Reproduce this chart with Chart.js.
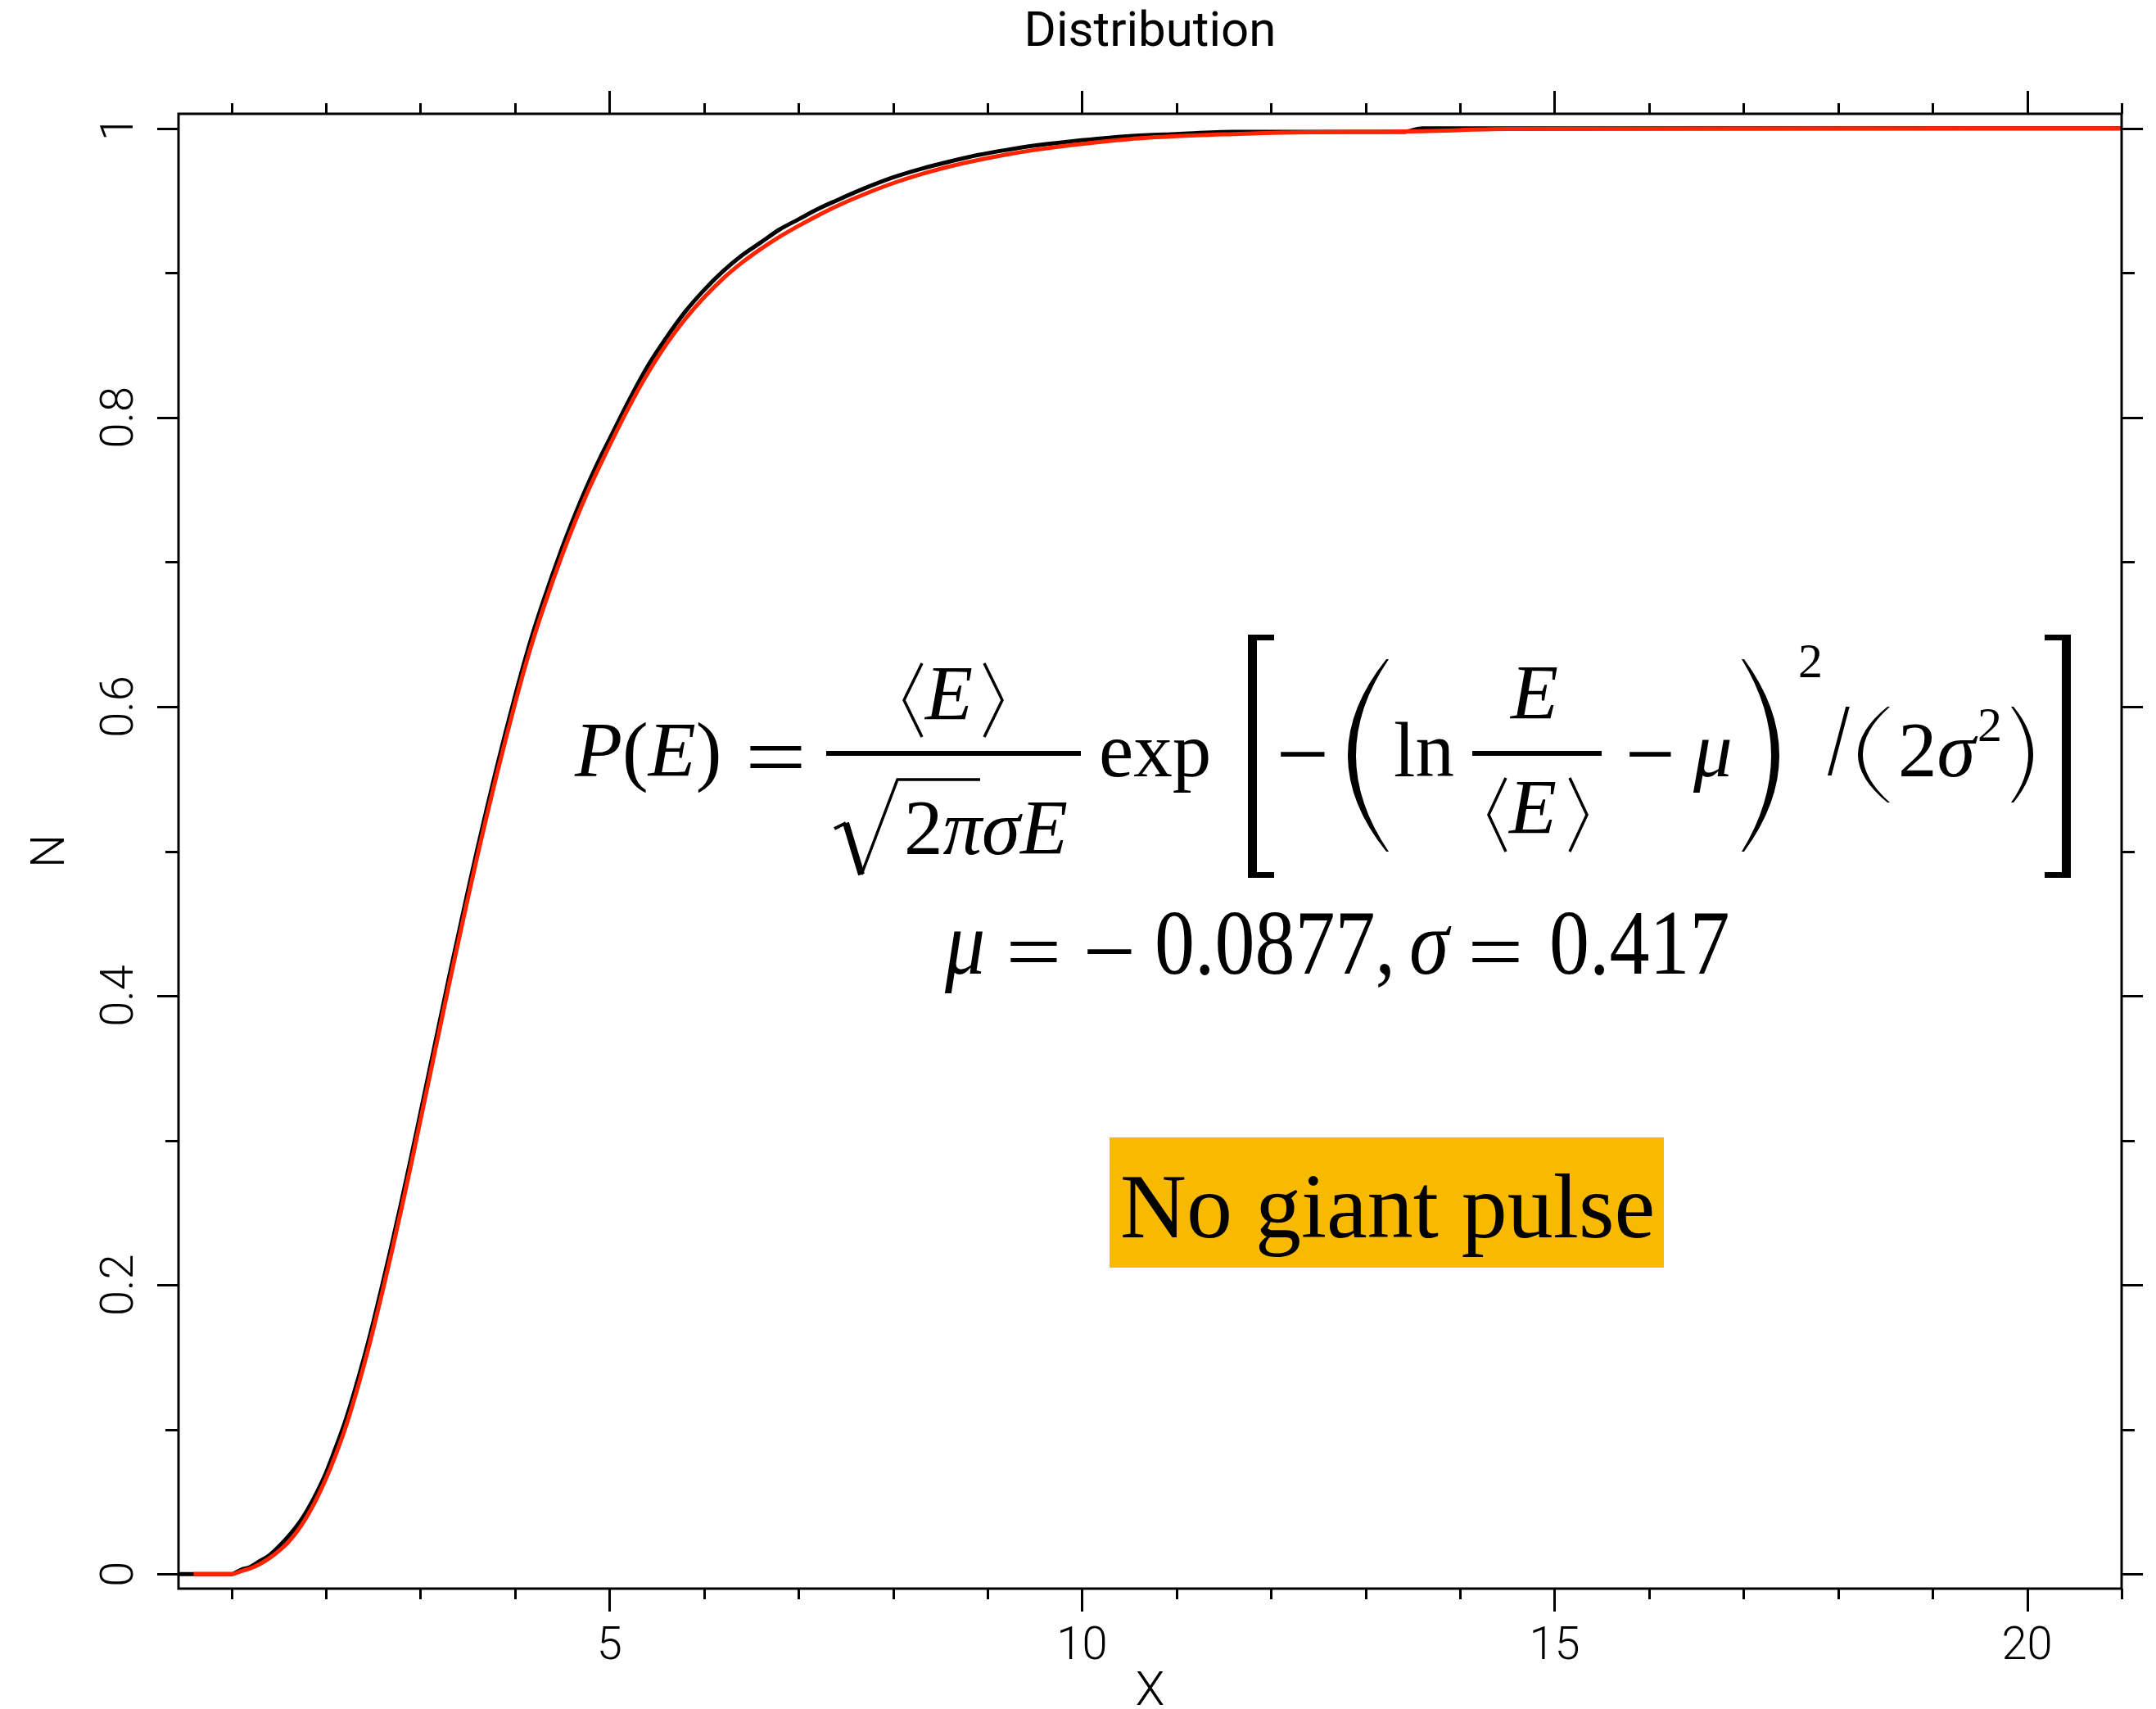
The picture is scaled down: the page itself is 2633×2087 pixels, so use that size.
<!DOCTYPE html>
<html><head><meta charset="utf-8">
<script src="https://cdn.jsdelivr.net/npm/chart.js@4.4.1/dist/chart.umd.min.js"></script>
<style>html,body{margin:0;padding:0;background:#fff;}canvas{display:block;}</style>
</head><body>
<canvas id="c" width="2633" height="2087"></canvas>
<script>
// ---------- data ----------
const chartTitle = 'Distribution';
const xAxisTitle = 'X';
const yAxisTitle = 'N';
const xRange = [0.44, 21];
const yRange = [-0.01, 1.01];
const xMajorTicks = [5, 10, 15, 20];
const xMajorLabels = ['5', '10', '15', '20'];
const xMinorTicks = [1,2,3,4,5,6,7,8,9,10,11,12,13,14,15,16,17,18,19,20,21];
const yMajorTicks = [0, 0.2, 0.4, 0.6, 0.8, 1];
const yMajorLabels = ['0', '0.2', '0.4', '0.6', '0.8', '1'];
const yMinorTicks = [0.1, 0.3, 0.5, 0.7, 0.9];

// black histogram (data, cumulative)
const dataX = [0.44,1.0,1.1,1.2,1.3,1.4,1.5,1.6,1.7,1.8,1.9,2.0,2.1,2.2,2.3,2.4,2.5,2.6,2.7,2.8,2.9,3.0,3.1,3.2,3.3,3.4,3.5,3.6,3.7,3.8,3.9,4.0,4.1,4.2,4.3,4.4,4.5,4.6,4.7,4.8,4.9,5.0,5.2,5.4,5.6,5.8,6.0,6.2,6.4,6.6,6.8,7.0,7.2,7.4,7.7,8.0,8.3,8.6,8.9,9.2,9.5,9.9,10.5,11.0,11.6,12.1,13.4,13.6,21];
const dataY = [0,0,0.003,0.005,0.009,0.013,0.019,0.026,0.034,0.044,0.056,0.070,0.087,0.105,0.126,0.149,0.174,0.201,0.229,0.258,0.288,0.319,0.350,0.381,0.412,0.442,0.472,0.501,0.529,0.556,0.582,0.607,0.631,0.653,0.673,0.692,0.710,0.727,0.743,0.758,0.772,0.785,0.811,0.835,0.855,0.873,0.888,0.901,0.912,0.921,0.930,0.937,0.944,0.950,0.9585,0.966,0.972,0.977,0.9815,0.985,0.988,0.991,0.9945,0.996,0.9975,0.9975,0.9975,1.0,1.0];

// red curve (log-normal fit, cumulative)
const fitX = [0.6,1.0,1.1,1.2,1.3,1.4,1.5,1.6,1.7,1.8,1.9,2.0,2.1,2.2,2.3,2.4,2.5,2.6,2.7,2.8,2.9,3.0,3.1,3.2,3.3,3.4,3.5,3.6,3.7,3.8,3.9,4.0,4.1,4.2,4.3,4.4,4.5,4.6,4.7,4.8,4.9,5.0,5.2,5.4,5.6,5.8,6.0,6.2,6.4,6.6,6.8,7.0,7.2,7.4,7.7,8.0,8.3,8.6,8.9,9.2,9.5,9.9,10.5,11.0,11.6,12.1,13.6,14.5,21];
const fitY = [0,0,0.002,0.004,0.007,0.011,0.016,0.022,0.030,0.040,0.052,0.066,0.082,0.100,0.121,0.144,0.169,0.196,0.224,0.253,0.283,0.314,0.345,0.376,0.407,0.437,0.467,0.496,0.524,0.551,0.577,0.602,0.626,0.648,0.668,0.687,0.705,0.722,0.738,0.753,0.767,0.7805,0.8065,0.830,0.8505,0.868,0.883,0.896,0.907,0.9165,0.925,0.9325,0.9395,0.946,0.9545,0.962,0.9683,0.9736,0.978,0.9818,0.985,0.9885,0.9925,0.9945,0.996,0.997,0.998,0.9995,1.0];

const fitMu = '0.0877';
const fitSigma = '0.417';
const labelText = 'No giant pulse';

// ---------- drawing ----------
const SANS = 'Roboto, "Liberation Sans", "DejaVu Sans", sans-serif';
const SERIF = '"Liberation Serif", "Times New Roman", "DejaVu Serif", serif';
const RED = 'rgb(255,36,0)';
function sf(size, italic) { return (italic ? 'italic ' : '') + size + 'px ' + SERIF; }

function runText(ctx, parts, x, y, size, sy) {
  ctx.save();
  ctx.translate(x, y);
  ctx.scale(1, sy || 1);
  let cx = 0;
  for (const [s, it] of parts) {
    ctx.font = sf(size, it);
    ctx.fillText(s, cx, 0);
    cx += ctx.measureText(s).width;
  }
  ctx.restore();
}
function fitGlyph(ctx, ch, x0, y0, x1, y1) {
  ctx.save();
  ctx.font = sf(100, false);
  const m = ctx.measureText(ch);
  const w = m.actualBoundingBoxLeft + m.actualBoundingBoxRight;
  const h = m.actualBoundingBoxAscent + m.actualBoundingBoxDescent;
  ctx.translate(x0, y0);
  ctx.scale((x1 - x0) / w, (y1 - y0) / h);
  ctx.textAlign = 'left'; ctx.textBaseline = 'alphabetic';
  ctx.fillText(ch, m.actualBoundingBoxLeft, m.actualBoundingBoxAscent);
  ctx.restore();
}
function angle(ctx, xa, xb, y0, y1) { // tip at xa, open side at xb
  ctx.beginPath();
  ctx.moveTo(xb, y0); ctx.lineTo(xa, (y0 + y1) / 2); ctx.lineTo(xb, y1);
  ctx.stroke();
}
function paren(ctx, x0, y0, x1, y1, t, left) {
  const ym = (y0 + y1) / 2, e = 3;
  ctx.beginPath();
  if (left) {
    ctx.moveTo(x1 - e, y0);
    ctx.quadraticCurveTo(2 * x0 - (x1 - e), ym, x1 - e, y1);
    ctx.lineTo(x1, y1);
    ctx.quadraticCurveTo(2 * (x0 + t) - x1, ym, x1, y0);
  } else {
    ctx.moveTo(x0 + e, y0);
    ctx.quadraticCurveTo(2 * x1 - (x0 + e), ym, x0 + e, y1);
    ctx.lineTo(x0, y1);
    ctx.quadraticCurveTo(2 * (x1 - t) - x0, ym, x0, y0);
  }
  ctx.closePath();
  ctx.fill();
}

const overlay = {
  id: 'overlay',
  afterDraw(chart) {
    const { ctx, chartArea: a, scales: { x, y } } = chart;
    ctx.save();
    ctx.fillStyle = '#000'; ctx.strokeStyle = '#000';
    // frame
    ctx.lineWidth = 3;
    ctx.strokeRect(a.left, a.top, a.right - a.left, a.bottom - a.top);
    // ticks
    ctx.beginPath();
    xMinorTicks.forEach(v => {
      const px = Math.round(x.getPixelForValue(v)) + 0.5;
      const L = xMajorTicks.includes(v) ? 28 : 13;
      ctx.moveTo(px, a.bottom); ctx.lineTo(px, a.bottom + L);
      ctx.moveTo(px, a.top); ctx.lineTo(px, a.top - L);
    });
    yMajorTicks.concat(yMinorTicks).forEach(v => {
      const py = Math.round(y.getPixelForValue(v)) + 0.5;
      const L = yMajorTicks.includes(v) ? 26 : 16;
      ctx.moveTo(a.left, py); ctx.lineTo(a.left - L, py);
      ctx.moveTo(a.right, py); ctx.lineTo(a.right + L, py);
    });
    ctx.stroke();
    // tick labels
    ctx.font = '300 56px ' + SANS;
    ctx.textAlign = 'center'; ctx.textBaseline = 'alphabetic';
    xMajorTicks.forEach((v, i) => ctx.fillText(xMajorLabels[i], x.getPixelForValue(v), 2026));
    yMajorTicks.forEach((v, i) => {
      ctx.save();
      ctx.translate(162, y.getPixelForValue(v));
      ctx.rotate(-Math.PI / 2);
      ctx.fillText(yMajorLabels[i], 0, 0);
      ctx.restore();
    });
    // titles
    const cx = (a.left + a.right) / 2, cy = (a.top + a.bottom) / 2;
    ctx.font = '400 60px ' + SANS;
    ctx.fillText(chartTitle, cx, 56);
    ctx.font = '300 58px ' + SANS;
    ctx.fillText(xAxisTitle, cx, 2082);
    ctx.save(); ctx.translate(78, cy); ctx.rotate(-Math.PI / 2); ctx.fillText(yAxisTitle, 0, 0); ctx.restore();

    // formula, line 1
    ctx.textAlign = 'left';
    const S = 95;
    runText(ctx, [['P', 1], ['(', 0], ['E', 1], [')', 0]], 702, 948, S);
    fitGlyph(ctx, '=', 915, 910, 979, 937);
    ctx.fillRect(1009, 917, 311, 6);
    ctx.lineWidth = 3.5;
    angle(ctx, 1104, 1126, 810, 900);
    runText(ctx, [['E', 1]], 1130, 879, S);
    angle(ctx, 1224, 1202, 810, 900);
    // radical
    ctx.lineWidth = 4;
    ctx.beginPath(); ctx.moveTo(1019, 1012); ctx.lineTo(1033, 1005); ctx.stroke();
    ctx.lineWidth = 8;
    ctx.beginPath(); ctx.moveTo(1033, 1005); ctx.lineTo(1052, 1068); ctx.stroke();
    ctx.lineWidth = 3.5;
    ctx.beginPath(); ctx.moveTo(1052, 1068); ctx.lineTo(1096, 952); ctx.lineTo(1197, 952); ctx.stroke();
    runText(ctx, [['2', 0], ['π', 1], ['σ', 1], ['E', 1]], 1104, 1043, S);
    runText(ctx, [['exp', 0]], 1342, 948, S);
    // [
    ctx.fillRect(1524, 775, 11, 297); ctx.fillRect(1524, 775, 32, 7); ctx.fillRect(1524, 1065, 32, 7);
    fitGlyph(ctx, '\u2212', 1563, 918, 1618, 925);
    paren(ctx, 1646, 805, 1696, 1040, 10, true);
    runText(ctx, [['ln', 0]], 1702, 948, S);
    ctx.fillRect(1798, 917, 158, 6);
    runText(ctx, [['E', 1]], 1845, 878, S);
    ctx.lineWidth = 3.5;
    angle(ctx, 1818, 1839, 950, 1040);
    runText(ctx, [['E', 1]], 1843, 1018, S);
    angle(ctx, 1938, 1917, 950, 1040);
    fitGlyph(ctx, '\u2212', 1989, 918, 2041, 925);
    runText(ctx, [['μ', 1]], 2068, 948, S);
    paren(ctx, 2127, 805, 2173, 1040, 10, false);
    runText(ctx, [['2', 0]], 2196, 827, 60);
    fitGlyph(ctx, '/', 2232, 865, 2259, 948);
    paren(ctx, 2269, 863, 2308, 980, 6, true);
    runText(ctx, [['2', 0], ['σ', 1]], 2318, 948, S);
    runText(ctx, [['2', 0]], 2415, 905, 60);
    paren(ctx, 2456, 863, 2483, 980, 6, false);
    // ]
    ctx.fillRect(2518, 775, 11, 297); ctx.fillRect(2497, 775, 32, 7); ctx.fillRect(2497, 1065, 32, 7);

    // formula, line 2
    const S2 = 98, SY = 1.15;
    runText(ctx, [['μ', 1]], 1154, 1189, S2, SY);
    fitGlyph(ctx, '=', 1233, 1150, 1291, 1175);
    fitGlyph(ctx, '\u2212', 1327, 1159, 1382, 1166);
    runText(ctx, [[fitMu + ',', 0]], 1410, 1189, S2, SY);
    runText(ctx, [['σ', 1]], 1721, 1189, S2, SY);
    fitGlyph(ctx, '=', 1797, 1150, 1855, 1175);
    runText(ctx, [[fitSigma, 0]], 1892, 1189, S2, SY);

    // label box
    ctx.fillStyle = '#F8BA00';
    ctx.fillRect(1355, 1389, 677, 159);
    ctx.fillStyle = '#000';
    runText(ctx, [[labelText, 0]], 1368, 1511, 112);
    ctx.restore();
  }
};

const toPts = (xs, ys) => xs.map((v, i) => ({ x: v, y: ys[i] }));

new Chart(document.getElementById('c'), {
  type: 'scatter',
  data: {
    datasets: [
      { label: 'data', data: toPts(dataX, dataY), showLine: true, borderColor: '#000', borderWidth: 5, pointRadius: 0, cubicInterpolationMode: 'monotone', order: 1 },
      { label: 'fit', data: toPts(fitX, fitY), showLine: true, borderColor: RED, borderWidth: 5, pointRadius: 0, cubicInterpolationMode: 'monotone', order: 0 }
    ]
  },
  options: {
    responsive: false, devicePixelRatio: 1, animation: false,
    layout: { padding: { top: 139, right: 42, left: 0, bottom: 0 } },
    plugins: { legend: { display: false }, tooltip: { enabled: false }, title: { display: false } },
    scales: {
      x: { type: 'linear', min: xRange[0], max: xRange[1],
           ticks: { display: false }, grid: { display: false, drawTicks: false }, border: { display: false },
           afterFit: s => { s.height = 147; } },
      y: { type: 'linear', min: yRange[0], max: yRange[1],
           ticks: { display: false }, grid: { display: false, drawTicks: false }, border: { display: false },
           afterFit: s => { s.width = 218; } }
    }
  },
  plugins: [overlay]
});
</script>
</body></html>
